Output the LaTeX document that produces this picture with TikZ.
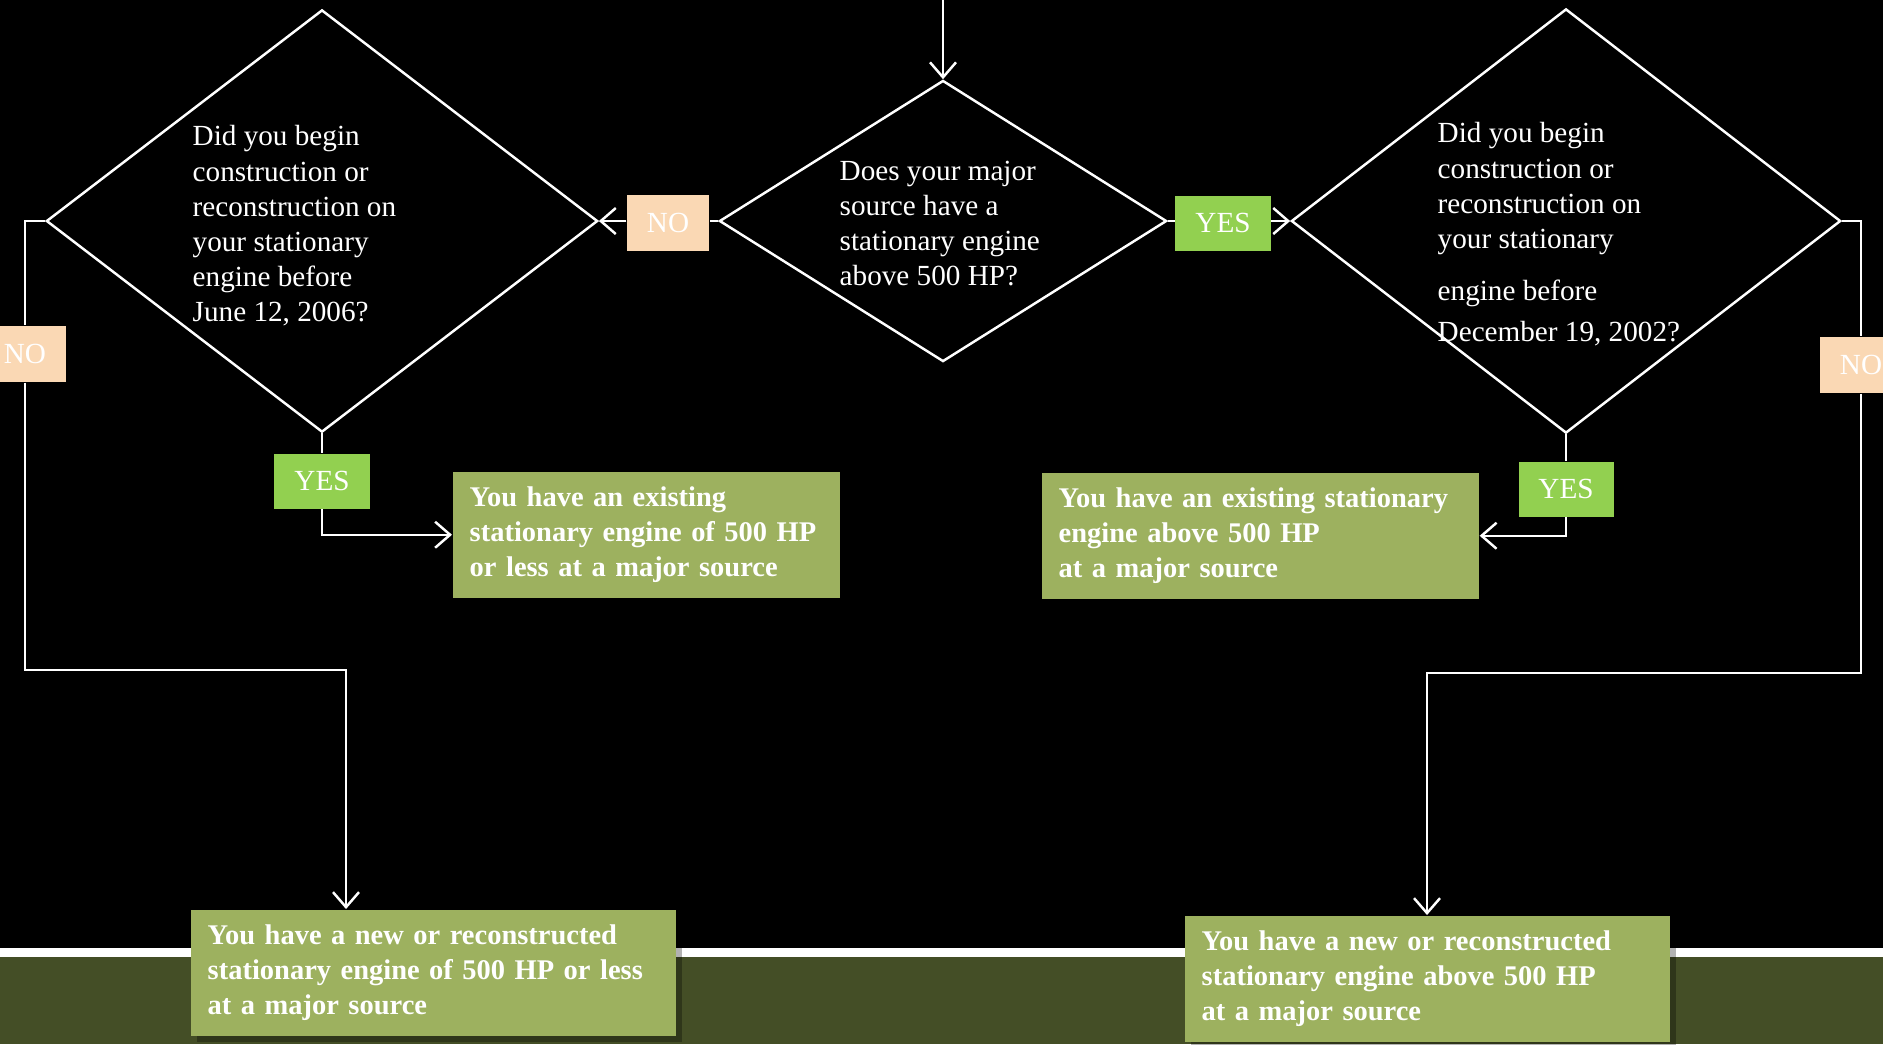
\documentclass[tikz,border=0pt]{standalone}
\usepackage{fontspec}
\setmainfont{Liberation Serif}
\usetikzlibrary{arrows.meta, shapes.geometric, shadows}
\definecolor{band}{HTML}{444E26}
\definecolor{result}{HTML}{9DB15F}
\definecolor{nofill}{HTML}{FAD8B4}
\definecolor{yesfill}{HTML}{92D050}

\begin{document}
\begin{tikzpicture}[x=0.01cm, y=-0.01cm,
    conn/.style={white, line width=0.7pt},
    arr/.style={conn, -{Straight Barb[length=1.5mm, width=2.6mm]}},
    decision/.style={diamond, draw=white, line width=0.7pt, inner sep=0pt},
    question/.style={anchor=north west, inner sep=0pt, align=left, text=white, font=\fontsize{8.3}{10}\selectfont},
    nolabel/.style={fill=nofill, text=white, minimum width=0.82cm, minimum height=0.56cm, inner sep=0pt, font=\fontsize{8.3}{10}\selectfont},
    yeslabel/.style={nolabel, fill=yesfill, minimum width=0.95cm, minimum height=0.55cm},
    outcome/.style={anchor=north west, fill=result, text=white, align=left, inner xsep=0.17cm, inner ysep=0pt, minimum height=1.26cm, font=\fontsize{8.1}{10}\selectfont\bfseries, drop shadow={shadow xshift=0.06cm, shadow yshift=-0.06cm, fill=black, opacity=0.3}}]
      \fill[black] (0, 0) rectangle (1883, 1044);
      \useasboundingbox (0, 0) rectangle (1883, 1044);
      \fill[white] (0, 948) rectangle (1883, 957);
      \fill[band] (0, 957) rectangle (1883, 1044);
      \node[decision, minimum width=5.51cm, minimum height=4.22cm] (diamL) at (322, 221) {};
      \node[decision, minimum width=4.47cm, minimum height=2.81cm] (diamC) at (943, 221) {};
      \node[decision, minimum width=5.49cm, minimum height=4.24cm] (diamR) at (1566, 221) {};
      \node[question] (qL) at (192, 125) {Did you begin\\construction or\\reconstruction on\\your stationary\\engine before\\June 12, 2006?};
      \node[question] (qC) at (839, 160) {Does your major\\source have a\\stationary engine\\above 500 HP?};
      \node[question] (qR) at (1437, 122) {Did you begin\\construction or\\reconstruction on\\your stationary\\[4.8pt]engine before\\[1.7pt]December 19, 2002?};
      \node[nolabel] (noC) at (668, 223) {NO};
      \node[yeslabel] (yesC) at (1223, 223) {YES};
      \node[nolabel] (noL) at (25, 354) {NO};
      \node[yeslabel] (yesL) at (322, 481) {YES};
      \node[yeslabel] (yesR) at (1566, 489) {YES};
      \node[nolabel] (noR) at (1861, 365) {NO};
      \node[outcome, text width=3.53cm] (resL) at (452, 471) {You have an existing\\stationary engine of 500 HP\\or less at a major source};
      \node[outcome, text width=4.03cm] (resR) at (1041, 472) {You have an existing stationary\\engine above 500 HP\\at a major source};
      \node[outcome, text width=4.51cm] (botL) at (190, 909) {You have a new or reconstructed\\stationary engine of 500 HP or less\\at a major source};
      \node[outcome, text width=4.51cm] (botR) at (1184, 915) {You have a new or reconstructed\\stationary engine above 500 HP\\at a major source};
      \coordinate (entry) at (943, -10);
      \coordinate (bendL) at (346, 670);
      \coordinate (bendR) at (1427, 673);
      \draw[arr] (entry) -- (diamC.north);
      \draw[conn] (diamC.west) -- (noC.east |- diamC.west);
      \draw[arr] (noC.west |- diamL.east) -- (diamL.east);
      \draw[conn] (diamC.east) -- (yesC.west |- diamC.east);
      \draw[arr] (yesC.east |- diamR.west) -- (diamR.west);
      \draw[conn] (diamL.south) -- (yesL.north);
      \draw[arr] (yesL.south) |- (resL.west);
      \draw[conn] (diamR.south) -- (yesR.north);
      \draw[arr] (yesR.south) |- (resR.east);
      \draw[conn] (diamL.west) -| (noL.north);
      \draw[arr] (noL.south) |- (bendL) -- (bendL |- botL.north);
      \draw[conn] (diamR.east) -| (noR.north);
      \draw[arr] (noR.south) |- (bendR) -- (bendR |- botR.north);
    \end{tikzpicture}
\end{document}
